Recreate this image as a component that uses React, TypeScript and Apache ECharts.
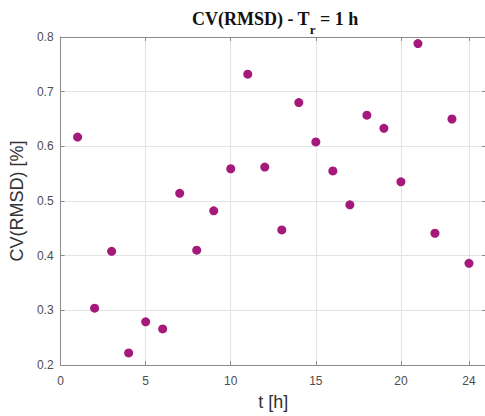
import React, { useEffect, useRef } from "react";
import * as echarts from "echarts";

const tHours = [1, 2, 3, 4, 5, 6, 7, 8, 9, 10, 11, 12, 13, 14, 15, 16, 17, 18, 19, 20, 21, 22, 23, 24];
const cvRmsd = [0.617, 0.304, 0.408, 0.222, 0.279, 0.266, 0.514, 0.41, 0.482, 0.559, 0.732, 0.562, 0.447, 0.68, 0.608, 0.555, 0.493, 0.657, 0.633, 0.535, 0.788, 0.441, 0.65, 0.386];
const xTickValues = [0, 5, 10, 15, 20, 24];

const AXIS_COLOR = "#8a8a8a";
const GRID_COLOR = "#e4e4e4";
const LABEL_COLOR = "#4d4d4d";
const FONT = "Liberation Sans, Arial, sans-serif";
const SERIF = "Liberation Serif, Times New Roman, serif";

export default function App() {
  const ref = useRef<HTMLDivElement>(null);
  useEffect(() => {
    if (!ref.current) return;
    const chart = echarts.init(ref.current, undefined, { renderer: "svg" });
    const points = tHours.map((t, i) => [t, cvRmsd[i]]);
    const xBase = {
      type: "value",
      min: 0,
      max: 25,
      axisLine: { show: true, onZero: false, lineStyle: { color: AXIS_COLOR, width: 1 } },
      axisTick: { show: true, inside: true, length: 4, customValues: xTickValues, lineStyle: { color: AXIS_COLOR } },
    };
    const yBase = {
      type: "value",
      min: 0.2,
      max: 0.8,
      interval: 0.1,
      axisLine: { show: true, onZero: false, lineStyle: { color: AXIS_COLOR, width: 1 } },
      axisTick: { show: true, inside: true, length: 4, lineStyle: { color: AXIS_COLOR } },
    };
    chart.setOption({
      animation: false,
      backgroundColor: "#ffffff",
      title: {
        text: "{a|CV(RMSD) - T}{s|r}{a| = 1 h}",
        left: 270,
        top: 5,
        textAlign: "center",
        textStyle: {
          fontFamily: SERIF,
          fontWeight: "bold",
          fontSize: 18,
          color: "#111",
          rich: {
            a: { fontFamily: SERIF, fontWeight: "bold", fontSize: 18, color: "#111", lineHeight: 20, verticalAlign: "top" },
            s: { fontFamily: SERIF, fontWeight: "bold", fontSize: 13, color: "#111", lineHeight: 14, verticalAlign: "top", padding: [13, 0, 0, 0] },
          },
        },
      },
      grid: { left: 60, right: 4, top: 37, bottom: 45, containLabel: false },
      xAxis: [
        {
          ...xBase,
          position: "bottom",
          name: "t [h]",
          nameLocation: "middle",
          nameGap: 28,
          nameTextStyle: { fontFamily: FONT, fontSize: 18, color: "#333" },
          axisLabel: { show: true, customValues: xTickValues, margin: 10, fontFamily: FONT, fontSize: 12, color: LABEL_COLOR },
          splitLine: { show: true, customValues: xTickValues, lineStyle: { color: GRID_COLOR, width: 1 } },
        },
        {
          ...xBase,
          position: "top",
          axisLabel: { show: false },
          splitLine: { show: false },
        },
      ],
      yAxis: [
        {
          ...yBase,
          position: "left",
          name: "CV(RMSD) [%]",
          nameLocation: "middle",
          nameGap: 23,
          nameTextStyle: { fontFamily: FONT, fontSize: 18, color: "#333" },
          axisLabel: { show: true, margin: 7, fontFamily: FONT, fontSize: 12, color: LABEL_COLOR, formatter: (v: number) => v.toFixed(1) },
          splitLine: { show: true, lineStyle: { color: GRID_COLOR, width: 1 } },
        },
        {
          ...yBase,
          position: "right",
          axisLabel: { show: false },
          splitLine: { show: false },
        },
      ],
      series: [
        {
          type: "scatter",
          xAxisIndex: 0,
          yAxisIndex: 0,
          data: points,
          symbol: "circle",
          symbolSize: 9,
          itemStyle: { color: "#a4197a", opacity: 1 },
        },
      ],
    });
    return () => chart.dispose();
  }, []);
  return (
    <div style={{ position: "absolute", left: 0, top: 0, width: 485, height: 416, overflow: "hidden", background: "#fff" }}>
      <div ref={ref} style={{ width: 490, height: 416 }} />
    </div>
  );
}
